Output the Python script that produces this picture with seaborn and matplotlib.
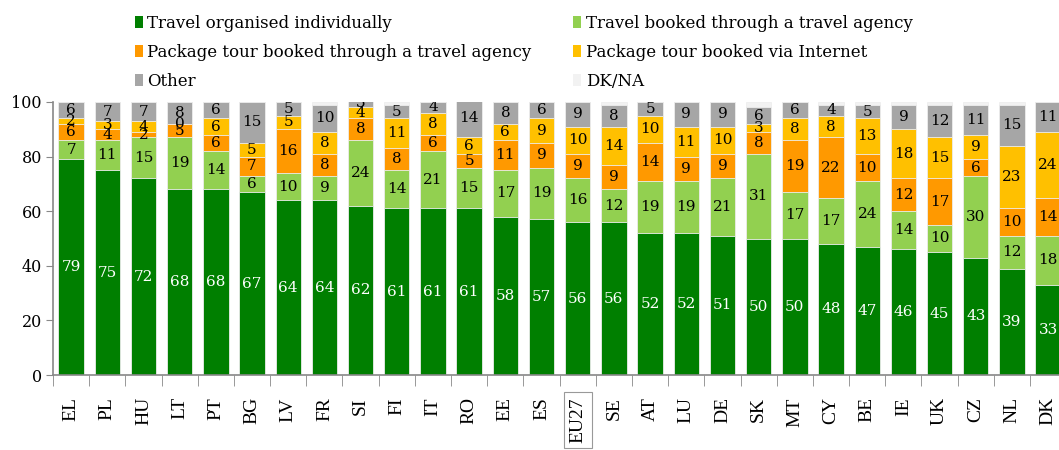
import numpy as np
import pandas as pd
import matplotlib
matplotlib.use('Agg')
import matplotlib.pyplot as plt
from matplotlib.patches import Patch
import seaborn as sns

countries = ['EL', 'PL', 'HU', 'LT', 'PT', 'BG', 'LV', 'FR', 'SI', 'FI', 'IT', 'RO', 'EE', 'ES',
             'EU27', 'SE', 'AT', 'LU', 'DE', 'SK', 'MT', 'CY', 'BE', 'IE', 'UK', 'CZ', 'NL', 'DK']
individual = [79, 75, 72, 68, 68, 67, 64, 64, 62, 61, 61, 61, 58, 57,
              56, 56, 52, 52, 51, 50, 50, 48, 47, 46, 45, 43, 39, 33]
agency = [7, 11, 15, 19, 14, 6, 10, 9, 24, 14, 21, 15, 17, 19,
          16, 12, 19, 19, 21, 31, 17, 17, 24, 14, 10, 30, 12, 18]
pkg_agency = [6, 4, 2, 5, 6, 7, 16, 8, 8, 8, 6, 5, 11, 9,
              9, 9, 14, 9, 9, 8, 19, 22, 10, 12, 17, 6, 10, 14]
pkg_internet = [2, 3, 4, 0, 6, 5, 5, 8, 4, 11, 8, 6, 6, 9,
                10, 14, 10, 11, 10, 3, 8, 8, 13, 18, 15, 9, 23, 24]
other = [6, 7, 7, 8, 6, 15, 5, 10, 3, 5, 4, 14, 8, 6,
         9, 8, 5, 9, 9, 6, 6, 4, 5, 9, 12, 11, 15, 11]
dkna = [0, 0, 0, 0, 0, 0, 0, 1, 0, 1, 0, 0, 0, 0,
        0, 1, 0, 0, 0, 2, 0, 1, 1, 1, 1, 1, 1, 0]

series_names = ['Travel organised individually', 'Travel booked through a travel agency',
                'Package tour booked through a travel agency', 'Package tour booked via Internet',
                'Other', 'DK/NA']
series_vals = [individual, agency, pkg_agency, pkg_internet, other, dkna]
colors = ['#007f00', '#92d050', '#ff9900', '#ffc000', '#a6a6a6', '#f2f2f2']

plt.rcParams.update({
    'font.family': 'DejaVu Serif',
    'font.size': 11,
})

vals = np.array(series_vals, dtype=float)
cum = np.cumsum(vals, axis=0)

fig = plt.figure(figsize=(10.59, 4.5), dpi=100)
ax = fig.add_axes([53 / 1059, 75 / 450, 1006 / 1059, 273 / 450])

# draw cumulative totals from top layer down so each layer shows its own segment
for i in range(len(series_names) - 1, -1, -1):
    df = pd.DataFrame({'country': countries, 'value': cum[i]})
    sns.barplot(data=df, x='country', y='value', order=countries, color=colors[i],
                saturation=1, width=0.7, edgecolor='#eeeeee', linewidth=0.6, ax=ax)

# value labels (skip DK/NA)
for i in range(5):
    for j, v in enumerate(vals[i]):
        y = cum[i][j] - v / 2
        ax.text(j, y, f'{int(v)}', ha='center', va='center', fontsize=11,
                color='white' if i == 0 else 'black', clip_on=True)

ax.set_xlabel('')
ax.set_ylabel('')
ax.set_yticks(np.arange(0, 101, 20))
ax.tick_params(axis='y', length=5, color='#888888', labelsize=11.5, pad=3)
ax.tick_params(axis='x', which='major', length=0, pad=16)
ax.set_xticks(np.arange(-0.5, 28, 1), minor=True)
ax.tick_params(axis='x', which='minor', length=8, color='#888888')
ax.set_xticklabels(countries, rotation=90, family='Liberation Serif', fontsize=14, va='top')
for lab in ax.get_xticklabels():
    if lab.get_text() == 'EU27':
        lab.set_bbox(dict(facecolor='white', edgecolor='#999999', linewidth=0.8, pad=4))
ax.set_ylim(0, 100)
ax.set_xlim(-0.5, 27.3)

for s in ['top', 'right']:
    ax.spines[s].set_visible(False)
for s in ['left', 'bottom']:
    ax.spines[s].set_color('#888888')
    ax.spines[s].set_linewidth(1.2)

handles = [Patch(facecolor=c, edgecolor='none') for c in colors]
order = [0, 2, 4, 1, 3, 5]
fig.legend([handles[k] for k in order], [series_names[k] for k in order],
           loc='upper left', bbox_to_anchor=(128 / 1059, 1 - 8 / 450), ncol=2,
           frameon=False, fontsize=12, handlelength=0.5, handleheight=0.75,
           handletextpad=0.25, labelspacing=0.72, columnspacing=2.5, borderaxespad=0)

fig.savefig('out.png', dpi=100)
